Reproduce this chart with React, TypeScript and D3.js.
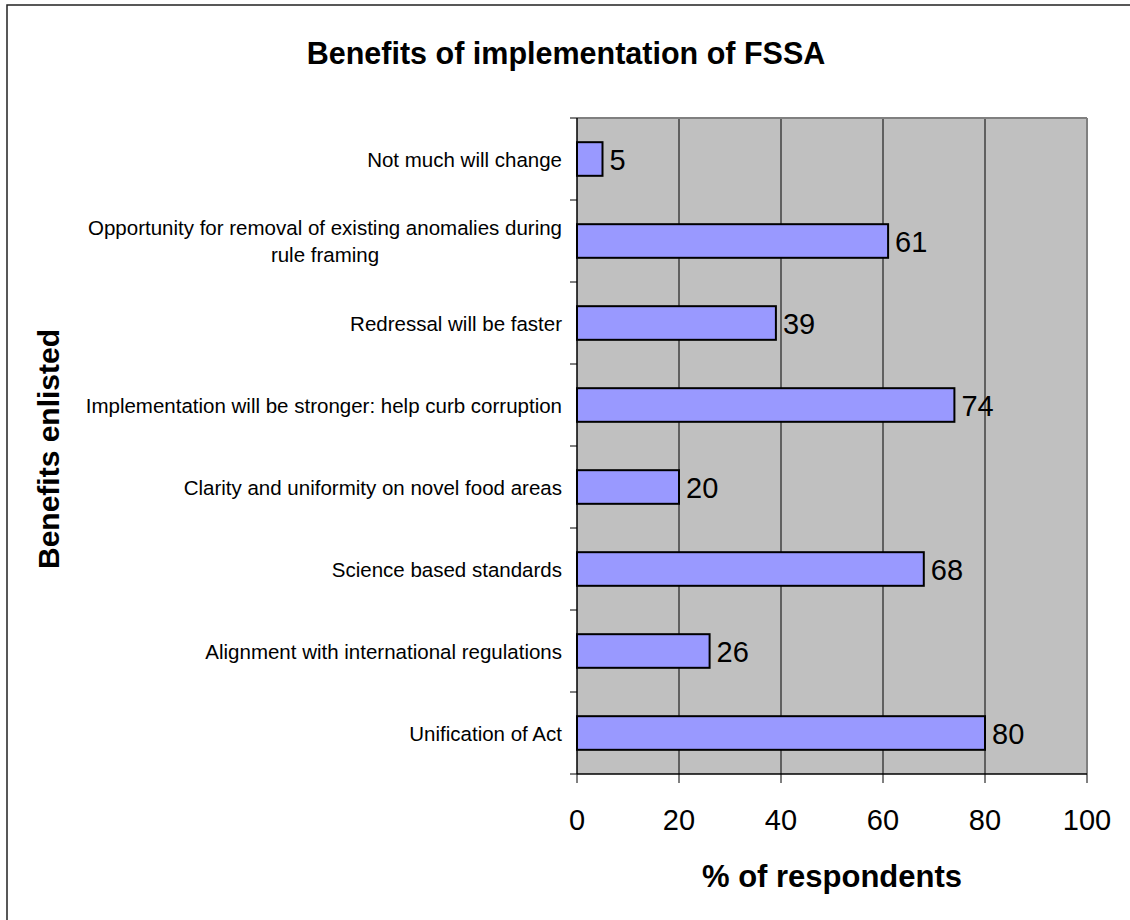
import React from "react";
import * as d3 from "d3";

const categories: string[][] = [
  ["Not much will change"],
  ["Opportunity for removal of existing anomalies during", "rule framing"],
  ["Redressal will be faster"],
  ["Implementation will be stronger: help curb corruption"],
  ["Clarity and uniformity on novel food areas"],
  ["Science based standards"],
  ["Alignment with international regulations"],
  ["Unification of Act"],
];
const values: number[] = [5, 61, 39, 74, 20, 68, 26, 80];
const xTicks: number[] = [0, 20, 40, 60, 80, 100];

const W = 1130;
const H = 920;
const left = 577;
const right = 1087;
const top = 118;
const bottom = 774;
const FONT = "Arial, 'Liberation Sans', Helvetica, sans-serif";

export default function App() {
  const x = d3.scaleLinear().domain([0, 100]).range([left, right]);
  const idx = d3.range(categories.length);
  const y = d3.scaleBand<number>().domain(idx).range([top, bottom]).paddingInner(0).paddingOuter(0);
  const bw = y.bandwidth();
  const barH = bw * 0.41;
  const bandEdges = d3.range(categories.length + 1).map((i) => top + i * bw);
  const labelRight = left - 15;
  const multiCenter = 325;

  return (
    <svg width={W} height={H} style={{ position: "absolute", left: 0, top: 0, background: "#fff" }} fontFamily={FONT}>
      <rect x={7} y={5} width={W + 10} height={H + 10} fill="#fff" stroke="#222" strokeWidth={1.5} />
      <text x={566} y={64} textAnchor="middle" fontSize={30.5} fontWeight="bold" fill="#000">
        Benefits of implementation of FSSA
      </text>
      {/* plot area */}
      <rect x={left} y={top} width={right - left} height={bottom - top} fill="#C0C0C0" />
      {xTicks.slice(1, -1).map((t) => (
        <line key={"g" + t} x1={x(t)} x2={x(t)} y1={top} y2={bottom} stroke="#000" strokeWidth={1} />
      ))}
      <line x1={left} x2={right} y1={top} y2={top} stroke="#808080" strokeWidth={2} />
      <line x1={right} x2={right} y1={top} y2={bottom} stroke="#808080" strokeWidth={2} />
      {/* bars */}
      {values.map((v, i) => {
        const cy = (y(i) as number) + bw / 2;
        return (
          <g key={"b" + i}>
            <rect x={x(0)} y={cy - barH / 2} width={x(v) - x(0)} height={barH} fill="#9999FF" stroke="#000" strokeWidth={2} />
            <text x={x(v) + 7} y={cy + 10.5} fontSize={29} fill="#000">
              {v}
            </text>
          </g>
        );
      })}
      {/* axes */}
      <line x1={left} x2={left} y1={top} y2={bottom} stroke="#000" strokeWidth={1.5} />
      <line x1={left} x2={right} y1={bottom} y2={bottom} stroke="#000" strokeWidth={1.5} />
      {bandEdges.map((e, i) => (
        <line key={"yt" + i} x1={left - 7} x2={left} y1={e} y2={e} stroke="#000" strokeWidth={1} />
      ))}
      {xTicks.map((t) => (
        <g key={"xt" + t}>
          <line x1={x(t)} x2={x(t)} y1={bottom} y2={bottom + 9} stroke="#000" strokeWidth={1} />
          <text x={x(t)} y={830} textAnchor="middle" fontSize={29} fill="#000">
            {t}
          </text>
        </g>
      ))}
      {/* category labels */}
      {categories.map((lines, i) => {
        const cy = (y(i) as number) + bw / 2;
        const lh = 27;
        const start = cy - ((lines.length - 1) * lh) / 2;
        const multi = lines.length > 1;
        return (
          <text key={"c" + i} textAnchor={multi ? "middle" : "end"} fontSize={20.5} fill="#000">
            {lines.map((ln, j) => (
              <tspan key={j} x={multi ? multiCenter : labelRight} y={start + j * lh + 7.5}>
                {ln}
              </tspan>
            ))}
          </text>
        );
      })}
      <text x={832} y={887} textAnchor="middle" fontSize={31} fontWeight="bold" fill="#000">
        % of respondents
      </text>
      <text transform="translate(59,449) rotate(-90)" textAnchor="middle" fontSize={30} fontWeight="bold" fill="#000">
        Benefits enlisted
      </text>
    </svg>
  );
}
